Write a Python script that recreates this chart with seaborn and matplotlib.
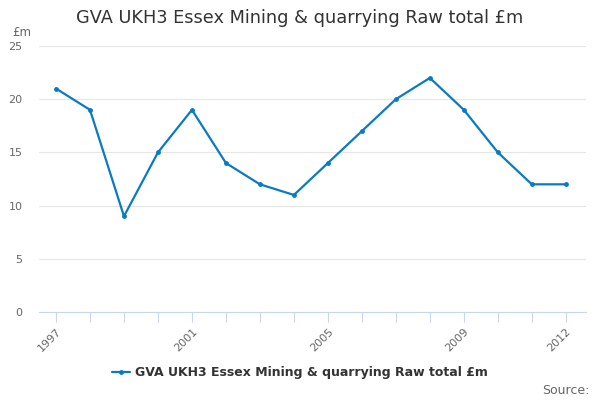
import matplotlib
matplotlib.use("Agg")
import matplotlib.pyplot as plt
import seaborn as sns
import pandas as pd

years = list(range(1997, 2013))
values = [21, 19, 9, 15, 19, 14, 12, 11, 14, 17, 20, 22, 19, 15, 12, 12]
label_years = [1997, 2001, 2005, 2009, 2012]
series_name = "GVA UKH3 Essex Mining & quarrying Raw total £m"

df = pd.DataFrame({"year": years, "value": values})

sns.set_style("white")
plt.rcParams["font.family"] = ["DejaVu Sans"]

fig = plt.figure(figsize=(6, 4), dpi=100)
ax = fig.add_axes([0.065, 0.22, 0.912, 0.665])

sns.lineplot(data=df, x="year", y="value", ax=ax, color="#0a7bc2", linewidth=1.6,
             marker="o", markersize=3.5, markeredgewidth=0, label=series_name)

ax.set_xlim(1996.5, 2012.6)
ax.set_ylim(0, 25)
ax.set_yticks([0, 5, 10, 15, 20, 25])
ax.yaxis.grid(True, color="#e6e6e6", linewidth=0.8)
ax.set_axisbelow(True)
for s in ["top", "right", "left"]:
    ax.spines[s].set_visible(False)
ax.spines["bottom"].set_color("#ccd6eb")
ax.set_xticks(years)
ax.set_xticklabels([str(y) if y in label_years else "" for y in years],
                   rotation=45, ha="right", rotation_mode="anchor")
ax.tick_params(axis="x", bottom=True, direction="out", length=7.5, width=0.8,
               color="#ccd6eb", labelsize=8, labelcolor="#666666", pad=3)
ax.tick_params(axis="y", left=False, length=0, labelsize=8, labelcolor="#666666", pad=12)
ax.set_xlabel("")
ax.set_ylabel("")

fig.text(0.5, 0.955, series_name, ha="center", va="center", fontsize=12.8, color="#333333")
fig.text(0.02, 0.92, "£m", ha="left", va="center", fontsize=8.5, color="#666666")
fig.text(0.982, 0.025, "Source:", ha="right", va="center", fontsize=9, color="#666666")

ax.legend(loc="center", bbox_to_anchor=(0.5, 0.068), bbox_transform=fig.transFigure,
          frameon=False, handlelength=1.5, handletextpad=0.4,
          prop={"size": 9, "weight": "bold"}, labelcolor="#333333")

fig.savefig("out.png", dpi=100)
